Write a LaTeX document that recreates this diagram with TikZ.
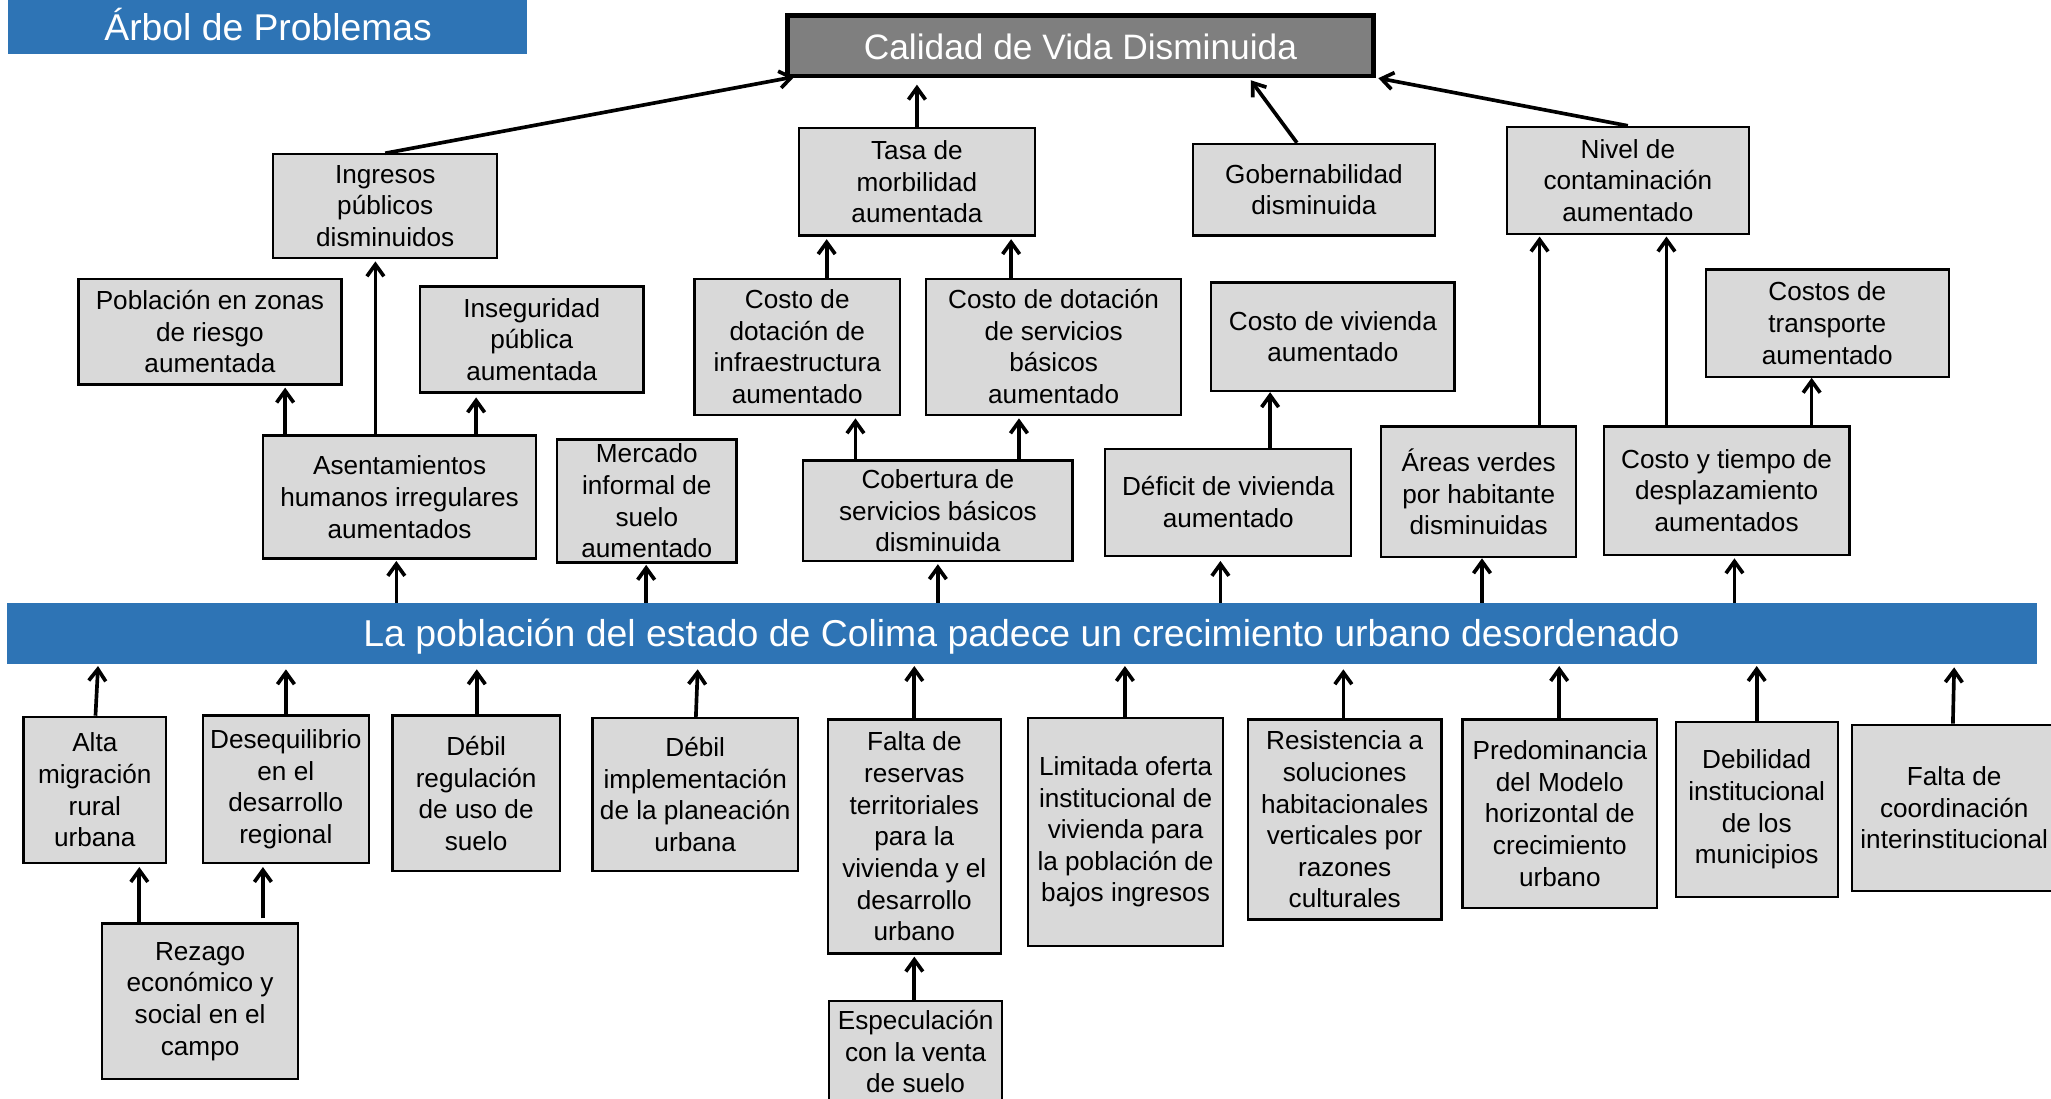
\documentclass[tikz,border=0pt]{standalone}
\usepackage{fontspec}
\setmainfont{Liberation Sans}
\usetikzlibrary{arrows.meta}
\definecolor{bandblue}{RGB}{46,116,181}
\definecolor{boxgray}{RGB}{217,217,217}
\definecolor{topgray}{RGB}{127,127,127}
\tikzset{
  box/.style={draw=black,line width=1.7pt,fill=boxgray,align=center,inner sep=0pt,
    font=\fontsize{20}{24.2}\selectfont,text=black},
  arr/.style={line width=2.8pt,-{Straight Barb[length=9pt,width=13pt]}},
}
\newcommand\bx[6]{\node[box,minimum width={(#4-#2)*1pt},minimum height={(#5-#3)*1pt}] (#1) at ({(#2+#4)/2},{(#3+#5)/2}) {#6};}
\begin{document}
\begin{tikzpicture}[x=1pt,y=-1pt]
\useasboundingbox (0,0) rectangle (1568,840);
\clip (0,0) rectangle (1568,840);
% title
\fill[bandblue] (6,0) rectangle (403,41);
\node[inner sep=0pt,text=white,font=\fontsize{28.5}{34}\selectfont] (title) at (205,18.5) {Árbol de Problemas};
% top problem
\node[draw=black,line width=3.5pt,fill=topgray,minimum width=448pt,minimum height=46pt,inner sep=0pt] (top) at (826,35) {};
\node[inner sep=0pt,text=white,font=\fontsize{27}{32}\selectfont] (toptext) at (826,36) {Calidad de Vida Disminuida};
% band
\node[fill=bandblue,minimum width=1552pt,minimum height=47pt,inner sep=0pt] (band) at (781,484.5) {};
\node[inner sep=0pt,text=white,font=\fontsize{28.6}{34}\selectfont] (bandtext) at (781,487) {La población del estado de Colima padece un crecimiento urbano desordenado};
% effects
\bx{ingr}{209}{118}{380}{197}{Ingresos\\públicos\\disminuidos}
\bx{tasa}{611}{98}{791}{180}{Tasa de\\morbilidad\\aumentada}
\bx{gob}{912}{110}{1097}{180}{Gobernabilidad\\disminuida}
\bx{nivel}{1152}{97}{1337}{179}{Nivel de\\contaminación\\aumentado}
\bx{pobl}{60}{213}{261}{294}{Población en zonas\\de riesgo\\aumentada}
\bx{inseg}{321}{219}{492}{300}{Inseguridad\\pública\\aumentada}
\bx{cinf}{531}{213}{688}{317}{Costo de\\dotación de\\infraestructura\\aumentado}
\bx{cserv}{708}{213}{903}{317}{Costo de dotación\\de servicios\\básicos\\aumentado}
\bx{cviv}{926}{216}{1112}{299}{Costo de vivienda\\aumentado}
\bx{ctrans}{1304}{206}{1490}{288}{Costos de\\transporte\\aumentado}
\bx{asent}{201}{333}{410}{427}{Asentamientos\\humanos irregulares\\aumentados}
\bx{merc}{426}{336}{563}{430}{Mercado\\informal de\\suelo\\aumentado}
\bx{cober}{614}{352}{820}{429}{Cobertura de\\servicios básicos\\disminuida}
\bx{defic}{845}{343}{1033}{425}{Déficit de vivienda\\aumentado}
\bx{areas}{1056}{326}{1205}{426}{Áreas verdes\\por habitante\\disminuidas}
\bx{cytd}{1226}{326}{1414}{424}{Costo y tiempo de\\desplazamiento\\aumentados}
% causes
\bx{alta}{18}{548}{127}{660}{Alta\\migración\\rural\\urbana}
\bx{deseq}{155}{547}{282}{660}{Desequilibrio\\en el\\desarrollo\\regional}
\bx{dreg}{300}{547}{428}{666}{Débil\\regulación\\de uso de\\suelo}
\bx{dimp}{453}{549}{610}{666}{Débil\\implementación\\de la planeación\\urbana}
\bx{falta}{633}{550}{765}{729}{Falta de\\reservas\\territoriales\\para la\\vivienda y el\\desarrollo\\urbano}
\bx{rezago}{78}{706}{228}{825}{Rezago\\económico y\\social en el\\campo}
\bx{espec}{634}{765}{766}{843}{Especulación\\con la venta\\de suelo}
\bx{limit}{786}{549}{935}{723}{Limitada oferta\\institucional de\\vivienda para\\la población de\\bajos ingresos}
\bx{resist}{954}{550}{1102}{703}{Resistencia a\\soluciones\\habitacionales\\verticales por\\razones\\culturales}
\bx{predom}{1118}{550}{1267}{694}{Predominancia\\del Modelo\\horizontal de\\crecimiento\\urbano}
\bx{debil}{1281}{552}{1405}{686}{Debilidad\\institucional\\de los\\municipios}
\bx{fcoord}{1416}{554}{1572}{681}{Falta de\\coordinación\\interinstitucional}
% upper connectors
\draw[arr] (ingr.north) -- ([xshift=7pt,yshift=1pt]top.south west);
\draw[arr,shorten >=5pt] (tasa.north) -- (top.south -| tasa.north);
\draw[arr,shorten >=2pt] ([xshift=-13pt]gob.north) -- (top.south -| 955,0);
\draw[arr] (nivel.north) -- ([xshift=2pt]top.south east);
\draw[arr,shorten >=2pt] (asent.north -| 287,0) -- (ingr.south -| 287,0);
\draw[arr,shorten >=1.5pt] (asent.north -| 218,0) -- (pobl.south -| 218,0);
\draw[arr,shorten >=3pt] (asent.north -| 364,0) -- (inseg.south -| 364,0);
\draw[arr,shorten >=1pt] (band.north -| 303,0) -- (asent.south -| 303,0);
\draw[arr,shorten >=1pt] (band.north -| 494,0) -- (merc.south -| 494,0);
\draw[arr,shorten >=1.5pt] (band.north -| 717,0) -- (cober.south -| 717,0);
\draw[arr,shorten >=2pt] (cober.north -| 654,0) -- (cinf.south -| 654,0);
\draw[arr,shorten >=2pt] (cober.north -| 779,0) -- (cserv.south -| 779,0);
\draw[arr,shorten >=2pt] (cinf.north -| 632,0) -- (tasa.south -| 632,0);
\draw[arr,shorten >=2pt] (cserv.north -| 773,0) -- (tasa.south -| 773,0);
\draw[arr,shorten >=3pt] (band.north -| 933,0) -- (defic.south -| 933,0);
\draw[arr] (defic.north -| 971,0) -- (cviv.south -| 971,0);
\draw[arr] (band.north -| 1133,0) -- (areas.south -| 1133,0);
\draw[arr,shorten >=2pt] (band.north -| 1326,0) -- (cytd.south -| 1326,0);
\draw[arr] (cytd.north -| 1385,0) -- (ctrans.south -| 1385,0);
\draw[arr,shorten >=1pt] (areas.north -| 1177,0) -- (nivel.south -| 1177,0);
\draw[arr,shorten >=1pt] (cytd.north -| 1274,0) -- (nivel.south -| 1274,0);
% lower connectors
\draw[arr,shorten >=1pt] (alta.north -| 73,0) -- (band.south -| 75,0);
\draw[arr,shorten >=3.5pt] (deseq.north -| 218.6,0) -- (band.south -| 218.6,0);
\draw[arr,shorten >=3.5pt] (dreg.north -| 364.5,0) -- (band.south -| 364.5,0);
\draw[arr,shorten >=3.5pt] (dimp.north -| 532,0) -- (band.south -| 533.5,0);
\draw[arr,shorten >=1pt] (falta.north -| 699,0) -- (band.south -| 699,0);
\draw[arr,shorten >=2pt] (rezago.north -| 106.5,0) -- (alta.south -| 106.5,0);
\draw[arr,shorten >=2pt] ([yshift=3pt]rezago.north -| 201,0) -- (deseq.south -| 201,0);
\draw[arr,shorten >=1.5pt] (espec.north -| 699,0) -- (falta.south -| 699,0);
\draw[arr,shorten >=1pt] (limit.north -| 860,0) -- (band.south -| 860,0);
\draw[arr,shorten >=3.5pt] (resist.north -| 1027,0) -- (band.south -| 1027,0);
\draw[arr,shorten >=1pt] (predom.north -| 1192,0) -- (band.south -| 1192,0);
\draw[arr,shorten >=1pt] (debil.north -| 1343,0) -- (band.south -| 1343,0);
\draw[arr,shorten >=2pt] (fcoord.north -| 1493,0) -- (band.south -| 1494,0);
\end{tikzpicture}
\end{document}
